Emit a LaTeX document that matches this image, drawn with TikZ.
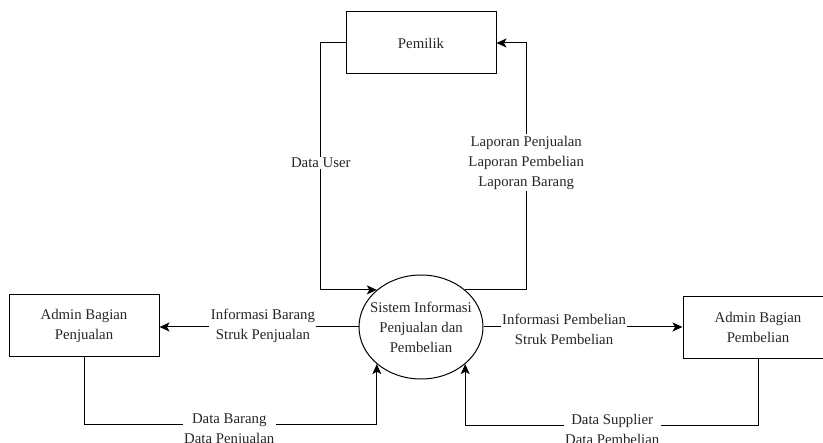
\documentclass[tikz,border=0pt]{standalone}
\usepackage{fontspec}
\setmainfont{Liberation Serif}
\usetikzlibrary{arrows.meta,shapes.geometric}
\begin{document}
\begin{tikzpicture}[x=1pt,y=-1pt,
  txt/.style={font=\rmfamily\fontsize{14.8}{20}\selectfont, text=black!85, align=center},
  boxnode/.style={txt, draw, line width=1pt, minimum width=150pt, minimum height=62pt, inner sep=0pt},
  procnode/.style={txt, draw, ellipse, line width=1pt, minimum width=124pt, minimum height=104pt, inner xsep=-10pt, inner ysep=0pt},
  lbl/.style={txt, fill=white, inner sep=1.5pt},
  arr/.style={draw, line width=1pt, -{Stealth[length=10pt,width=9pt,inset=2.5pt]}}
]
\useasboundingbox (0,0) rectangle (823,443);
\node[boxnode] (pem) at (421,43) {Pemilik};
\node[procnode] (sys) at (421,327) {Sistem Informasi\\Penjualan dan\\Pembelian};
\node[boxnode] (adp) at (84,325.5) {Admin Bagian\\Penjualan};
\node[boxnode] (abl) at (758,327.5) {Admin Bagian\\Pembelian};

\draw[arr] (pem.west) -| ([xshift=-56pt]sys.north west) node[lbl,pos=0.743]{Data User} -- (sys.north west);
\draw[arr] (sys.north east) -- ++(61,0) |- (pem.east) node[lbl,pos=0.258]{Laporan Penjualan\\Laporan Pembelian\\Laporan Barang};
\draw[arr] (sys.west) -- (sys.west -| adp.east) node[lbl,pos=0.48,yshift=1pt]{Informasi Barang\\Struk Penjualan};
\draw[arr] (sys.east) -- (sys.east -| abl.west) node[lbl,pos=0.405,yshift=-2pt]{Informasi Pembelian\\Struk Pembelian};
\draw[arr] (adp.south) -- ++(0,68) -| (sys.south west) node[lbl,pos=0.248,yshift=-5pt]{Data Barang\\Data Penjualan};
\draw[arr] (abl.south) -- ++(0,67) -| (sys.south east) node[lbl,pos=0.249,yshift=-3.5pt]{Data Supplier\\Data Pembelian};
\end{tikzpicture}
\end{document}
